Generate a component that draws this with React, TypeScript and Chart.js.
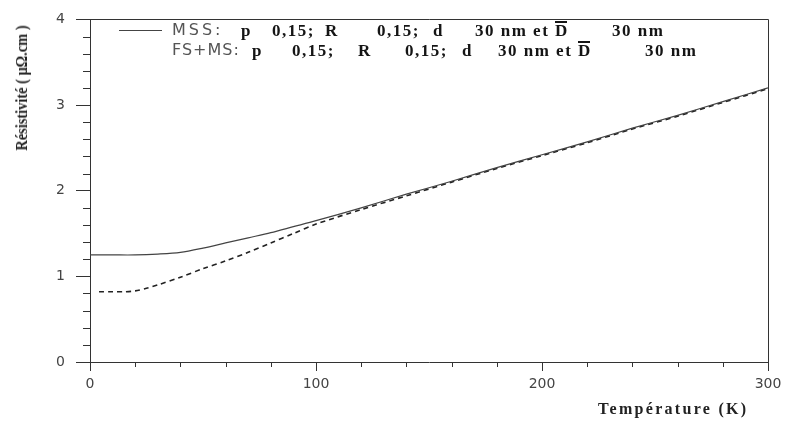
import React, { useEffect, useRef } from "react";
import { Chart, registerables } from "chart.js";

Chart.register(...registerables);

const mssTemps = [0, 10, 20, 30, 40, 50, 60, 70, 80, 90, 100, 120, 140, 160, 180, 200, 220, 240, 260, 280, 300];
const mssValues = [1.25, 1.25, 1.25, 1.26, 1.28, 1.33, 1.39, 1.45, 1.51, 1.58, 1.65, 1.8, 1.96, 2.11, 2.27, 2.42, 2.57, 2.73, 2.88, 3.04, 3.2];

const fsmsTemps = [4, 10, 15, 20, 25, 30, 40, 50, 60, 70, 80, 90, 100, 120, 140, 160, 180, 200, 220, 240, 260, 280, 300];
const fsmsValues = [0.82, 0.82, 0.82, 0.83, 0.86, 0.9, 0.99, 1.09, 1.18, 1.28, 1.39, 1.5, 1.61, 1.78, 1.94, 2.1, 2.26, 2.41, 2.56, 2.72, 2.87, 3.03, 3.19];

const xTickLabels = ["0", "100", "200", "300"];
const yTickLabels = ["0", "1", "2", "3", "4"];

const seriesNames = ["MSS", "FS+MS"];

const frameAndMinorTicks = {
  id: "frameAndMinorTicks",
  afterDraw(chart: any) {
    const { ctx, chartArea, scales } = chart;
    const x = scales.x;
    const y = scales.y;
    ctx.save();
    ctx.strokeStyle = "#333";
    ctx.lineWidth = 1;
    ctx.beginPath();
    ctx.moveTo(chartArea.left, Math.round(chartArea.top) + 0.5);
    ctx.lineTo(Math.round(chartArea.right) + 0.5, Math.round(chartArea.top) + 0.5);
    ctx.lineTo(Math.round(chartArea.right) + 0.5, chartArea.bottom);
    ctx.stroke();
    ctx.beginPath();
    for (let v = 0.2; v < 4; v += 0.2) {
      if (Math.abs(v - Math.round(v)) < 0.01) continue;
      const py = Math.round(y.getPixelForValue(v)) + 0.5;
      ctx.moveTo(chartArea.left - 7, py);
      ctx.lineTo(chartArea.left, py);
    }
    for (let v = 20; v < 300; v += 20) {
      if (v % 100 === 0) continue;
      const px = Math.round(x.getPixelForValue(v)) + 0.5;
      ctx.moveTo(px, chartArea.bottom);
      ctx.lineTo(px, chartArea.bottom + 5);
    }
    ctx.stroke();
    ctx.restore();
  },
};

function ChartCanvas() {
  const ref = useRef<HTMLCanvasElement>(null);
  useEffect(() => {
    if (!ref.current) return;
    const chart = new Chart(ref.current, {
      type: "line",
      data: {
        datasets: [
          {
            label: seriesNames[0],
            data: mssTemps.map((t, i) => ({ x: t, y: mssValues[i] })),
            borderColor: "#444",
            borderWidth: 1.2,
            pointRadius: 0,
            tension: 0.3,
            fill: false,
          },
          {
            label: seriesNames[1],
            data: fsmsTemps.map((t, i) => ({ x: t, y: fsmsValues[i] })),
            borderColor: "#222",
            borderWidth: 1.6,
            borderDash: [5, 4],
            pointRadius: 0,
            tension: 0.3,
            fill: false,
          },
        ],
      },
      plugins: [frameAndMinorTicks],
      options: {
        animation: false,
        responsive: false,
        layout: { padding: { top: 12, right: 21, left: 0, bottom: 0 } },
        plugins: { legend: { display: false }, tooltip: { enabled: false } },
        scales: {
          x: {
            type: "linear",
            min: 0,
            max: 300,
            afterFit: (s: any) => {
              s.height = 59;
            },
            ticks: {
              stepSize: 100,
              padding: 5,
              color: "#444",
              font: { family: "DejaVu Sans", size: 14 },
              maxRotation: 0,
              callback: (v: any) => {
                const i = [0, 100, 200, 300].indexOf(Number(v));
                return i >= 0 ? xTickLabels[i] : "";
              },
            },
            grid: { drawOnChartArea: false, drawTicks: true, tickLength: 9, color: "#333" },
            border: { display: true, color: "#333", width: 1 },
          },
          y: {
            type: "linear",
            min: 0,
            max: 4,
            afterFit: (s: any) => {
              s.width = 90;
            },
            ticks: {
              stepSize: 1,
              padding: 11,
              color: "#444",
              font: { family: "DejaVu Sans", size: 14 },
              callback: (v: any) => {
                const i = Number(v);
                return Number.isInteger(i) ? yTickLabels[i] : "";
              },
            },
            grid: { drawOnChartArea: false, drawTicks: true, tickLength: 14, color: "#333" },
            border: { display: true, color: "#333", width: 1 },
          },
        },
      },
    });
    return () => chart.destroy();
  }, []);
  return <canvas ref={ref} width={789} height={421} style={{ display: "block" }} />;
}

const serif = "'Liberation Serif', 'Times New Roman', serif";
const sans = "'DejaVu Sans', Arial, sans-serif";

function Frag({ x, y, text, bold = true, family = serif, over = false, size = 17, ls = 1.5, color = "#151515" }: any) {
  return (
    <span
      style={{
        position: "absolute",
        left: x,
        top: y,
        transform: "translateY(-50%)",
        fontFamily: family,
        fontWeight: bold ? 700 : 400,
        fontSize: size,
        letterSpacing: ls,
        color,
        whiteSpace: "pre",
        lineHeight: 1,
      }}
    >
      {text}
      {over ? (
        <span
          style={{
            display: "inline-block",
            letterSpacing: 0,
            borderTop: "2px solid #151515",
            lineHeight: 0.8,
            paddingTop: 1,
          }}
        >
          D
        </span>
      ) : null}
    </span>
  );
}

export default function App() {
  const r1 = 30;
  const r2 = 50;
  return (
    <div style={{ position: "fixed", left: 0, top: 0, width: 789, height: 421, background: "#fff", overflow: "hidden" }}>
      <ChartCanvas />
      {/* legend */}
      <div style={{ position: "absolute", left: 119, top: r1, width: 43, height: 0, borderTop: "1.2px solid #444" }} />
      <Frag x={172} y={r1} text={seriesNames[0] + ":"} bold={false} family={sans} size={16} ls={3} color="#555" />
      <Frag x={241} y={r1} text="p" />
      <Frag x={272} y={r1} text="0,15;" />
      <Frag x={325} y={r1} text="R" />
      <Frag x={377} y={r1} text="0,15;" />
      <Frag x={433} y={r1} text="d" />
      <Frag x={475} y={r1} text="30 nm et " over />
      <Frag x={612} y={r1} text="30 nm" />

      <Frag x={172} y={r2} text={seriesNames[1] + ":"} bold={false} family={sans} size={16} ls={1} color="#555" />
      <Frag x={252} y={r2} text="p" />
      <Frag x={292} y={r2} text="0,15;" />
      <Frag x={358} y={r2} text="R" />
      <Frag x={405} y={r2} text="0,15;" />
      <Frag x={462} y={r2} text="d" />
      <Frag x={498} y={r2} text="30 nm et " over />
      <Frag x={645} y={r2} text="30 nm" />

      {/* y axis title */}
      <div
        style={{
          position: "absolute",
          left: 22,
          top: 88,
          transform: "translate(-50%, -50%) rotate(-90deg) scaleX(0.9)",
          fontFamily: serif,
          fontWeight: 700,
          fontSize: 16,
          color: "#222",
          whiteSpace: "nowrap",
          lineHeight: 1,
        }}
      >
        Résistivité ( μΩ.cm )
      </div>
      {/* x axis title */}
      <div
        style={{
          position: "absolute",
          left: 598,
          top: 409,
          transform: "translateY(-50%)",
          fontFamily: serif,
          fontWeight: 700,
          fontSize: 16,
          letterSpacing: 2.3,
          color: "#222",
          whiteSpace: "nowrap",
          lineHeight: 1,
        }}
      >
        Température (K)
      </div>
    </div>
  );
}
